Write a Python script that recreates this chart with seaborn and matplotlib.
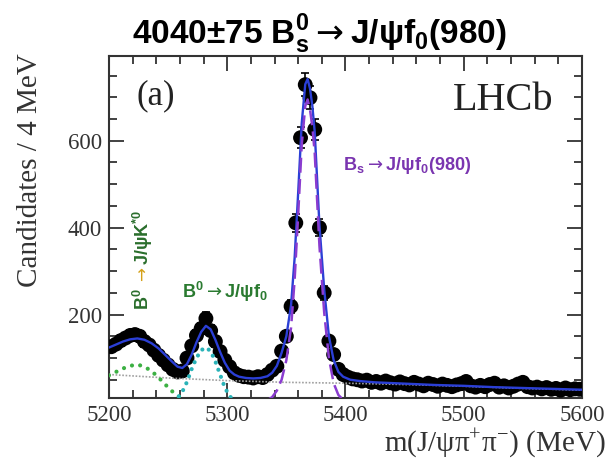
import numpy as np
import pandas as pd
import seaborn as sns
import matplotlib
matplotlib.use("Agg")
import matplotlib.pyplot as plt
from matplotlib.ticker import MultipleLocator

sns.set_style("ticks")
plt.rcParams['font.family'] = ['Liberation Serif', 'DejaVu Serif']
SANS = ['Liberation Sans', 'DejaVu Sans']

# candidates per 4 MeV bin (bin centres 5202 ... 5598)
mass = list(range(5202, 5600, 4))
counts = [126, 132, 140, 146, 152, 154, 150, 138, 130, 118,
          106, 95, 84, 74, 68, 70, 100, 128, 152, 168,
          191, 163, 138, 115, 95, 80, 66, 60, 57, 56,
          54, 57, 55, 62, 72, 81, 116, 150, 219, 411,
          607, 729, 699, 626, 400, 250, 139, 108, 74, 62,
          56, 52, 50, 47, 49, 44, 46, 42, 47, 43,
          40, 45, 41, 38, 44, 40, 36, 42, 39, 35,
          40, 37, 34, 38, 41, 46, 36, 33, 37, 34,
          39, 42, 33, 36, 31, 35, 40, 44, 34, 31,
          33, 29, 32, 28, 30, 26, 31, 27, 29, 28]

# fit components
fit_x = [5200, 5206, 5212, 5218, 5224, 5230, 5236, 5242, 5248, 5254, 5258, 5262,
         5266, 5270, 5274, 5278, 5282, 5286, 5290, 5294, 5298, 5302, 5306, 5310,
         5316, 5322, 5328, 5334, 5338, 5342, 5346, 5350, 5354, 5357, 5360, 5363,
         5366, 5368, 5370, 5372, 5374, 5378, 5382, 5386, 5390, 5394, 5398, 5404,
         5412, 5425, 5450, 5475, 5500, 5525, 5550, 5575, 5600]
fit_y = [124, 131, 138, 143, 145, 142, 134, 122, 106, 90, 80, 77,
         86, 108, 136, 160, 174, 166, 142, 114, 89, 71, 62, 57,
         54, 53, 54, 58, 66, 82, 112, 150, 222, 330, 480, 640,
         730, 742, 720, 680, 620, 405, 258, 150, 95, 68, 57, 50,
         47, 44, 41, 38, 36, 33, 31, 29, 27]

bs_x = [5334, 5338, 5342, 5346, 5350, 5354, 5357, 5360, 5363, 5366, 5368, 5370,
        5372, 5374, 5378, 5382, 5386, 5390, 5394, 5398]
bs_y = [3, 10, 25, 50, 95, 170, 280, 430, 590, 680, 695, 672,
        632, 572, 358, 205, 100, 42, 15, 4]

b0_x = [5254, 5258, 5262, 5266, 5270, 5274, 5278, 5282, 5286, 5290, 5294, 5298, 5302, 5306]
b0_y = [2, 8, 22, 45, 75, 100, 118, 124, 116, 92, 62, 32, 12, 3]

kst_x = [5200, 5206, 5212, 5218, 5224, 5230, 5236, 5242, 5248, 5254, 5260, 5266]
kst_y = [60, 68, 76, 82, 85, 80, 70, 55, 38, 22, 9, 2]

bkg_x = [5200, 5250, 5300, 5350, 5400, 5450, 5500, 5550, 5600]
bkg_y = [62, 54, 48, 44, 42, 39, 35, 30, 26]

fig = plt.figure(figsize=(6.12, 4.61), dpi=100)
ax = fig.add_axes([0.178, 0.1367, 0.773, 0.7418])

pts = pd.DataFrame({"mass": mass, "counts": counts})
ax.errorbar(mass, counts, yerr=np.sqrt(counts), fmt='none', ecolor='black',
            elinewidth=1.2, capsize=3, capthick=1.2, zorder=2)
sns.scatterplot(data=pts, x="mass", y="counts", ax=ax, color='black', s=115,
                edgecolor='none', zorder=3)

sns.lineplot(x=bkg_x, y=bkg_y, ax=ax, color='#a0a0a0', lw=1.2,
             linestyle=(0, (1, 1)), zorder=4)
sns.lineplot(x=kst_x, y=kst_y, ax=ax, color='#3cb043', lw=3,
             linestyle=(0, (0.01, 2.0)), dash_capstyle='round', zorder=5)
sns.lineplot(x=b0_x, y=b0_y, ax=ax, color='#2ab3b8', lw=3,
             linestyle=(0, (0.01, 1.8)), dash_capstyle='round', zorder=5)
sns.lineplot(x=fit_x, y=fit_y, ax=ax, color='#2b3fd6', lw=1.7, zorder=6)
sns.lineplot(x=bs_x, y=bs_y, ax=ax, color='#8a3ccf', lw=1.8,
             linestyle=(0, (6, 2.5)), zorder=7)

ax.set_xlim(5200, 5600)
ax.set_ylim(8, 795)
ax.xaxis.set_major_locator(MultipleLocator(100))
ax.xaxis.set_minor_locator(MultipleLocator(20))
ax.yaxis.set_major_locator(MultipleLocator(200))
ax.yaxis.set_minor_locator(MultipleLocator(50))
ax.tick_params(which='both', direction='in', top=True, right=True,
               color='#333333', width=1.3, labelsize=16.5, labelcolor='#333333')
ax.tick_params(which='major', length=11, pad=5)
ax.tick_params(which='minor', length=6)
for sp in ax.spines.values():
    sp.set_linewidth(1.5)
    sp.set_color('#333333')

ax.set_xlabel(r"m(J/ψπ$^\mathregular{+}$π$^\mathregular{-}$) (MeV)", fontsize=21, color='#333333')
ax.xaxis.set_label_coords(1.049, -0.135)
ax.xaxis.label.set_ha('right')
ax.xaxis.label.set_va('center')
ax.set_ylabel("Candidates / 4 MeV", fontsize=21, color='#333333')
ax.yaxis.set_label_coords(-0.167, 1.009)
ax.yaxis.label.set_ha('right')
ax.yaxis.label.set_va('center')

def fx(px):
    return px / 612

def fy(py):
    return 1 - py / 461

ARROW = r"$\rightarrow$"

fig.text(fx(319), fy(34),
         r"4040±75 $\mathregular{B}_\mathregular{s}^\mathregular{0}$" + ARROW + r"J/ψf$_\mathregular{0}$(980)",
         ha='center', va='center', fontsize=24, fontweight='bold', family=SANS, color='black')
fig.text(fx(137), fy(96), "(a)", ha='left', va='center', fontsize=25, color='#222222')
fig.text(fx(553), fy(100), "LHCb", ha='right', va='center', fontsize=29, color='#222222')

fig.text(fx(343), fy(165), r"$\mathregular{B}_\mathregular{s}$" + ARROW + r"J/ψf$_\mathregular{0}$(980)",
         ha='left', va='center', fontsize=13, fontweight='bold', color='#7a35b0', family=SANS)
fig.text(fx(182), fy(292), r"$\mathregular{B}^\mathregular{0}$" + ARROW + r"J/ψf$_\mathregular{0}$",
         ha='left', va='center', fontsize=13, fontweight='bold', color='#2a7a30', family=SANS)

green = '#2a6e2c'
fig.text(fx(143), fy(310), r"$\mathregular{B}^\mathregular{0}$", rotation=90, ha='center', va='bottom',
         fontsize=13, fontweight='bold', color=green, family=SANS)
fig.text(fx(143), fy(285), ARROW, rotation=90, ha='center', va='bottom',
         fontsize=12, color='#d4a017')
fig.text(fx(143), fy(265), r"J/ψK$^\mathregular{*0}$", rotation=90, ha='center', va='bottom',
         fontsize=13, fontweight='bold', color=green, family=SANS)

fig.savefig("out.png", dpi=100)
